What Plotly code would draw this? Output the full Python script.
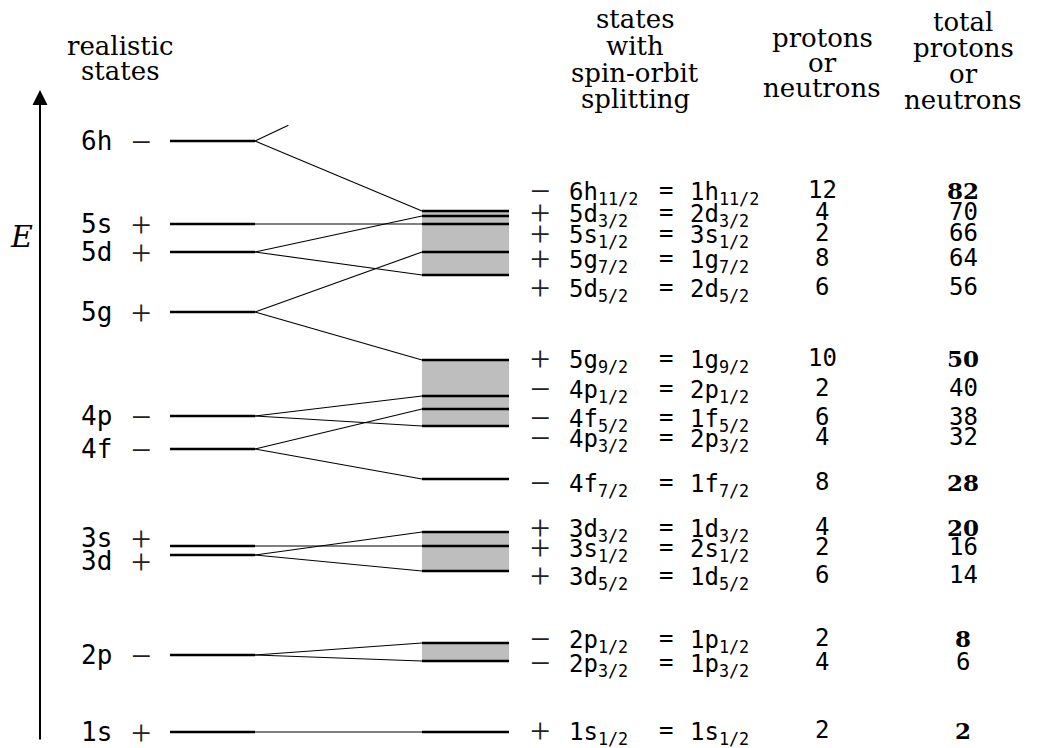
import plotly.graph_objects as go

# ---------------- data ----------------
left_states = ["6h", "5s", "5d", "5g", "4p", "4f", "3s", "3d", "2p", "1s"]
left_parity = ["−", "+", "+", "+", "−", "−", "+", "+", "−", "+"]
left_energy = [607, 524, 496, 436, 332, 299, 202, 193, 93, 16]
left_label_energy = [607, 524, 496, 436, 332, 299, 210, 187, 93, 16]

right_osc = ["6h", "5d", "5s", "5g", "5d", "5g", "4p", "4f", "4p", "4f", "3d", "3s", "3d", "2p", "2p", "1s"]
right_j = ["11/2", "3/2", "1/2", "7/2", "5/2", "9/2", "1/2", "5/2", "3/2", "7/2", "3/2", "1/2", "5/2", "1/2", "3/2", "1/2"]
right_conv = ["1h", "2d", "3s", "1g", "2d", "1g", "2p", "1f", "2p", "1f", "1d", "2s", "1d", "1p", "1p", "1s"]
right_energy = [537, 532, 524, 496, 473, 388, 352, 339, 322, 269, 216, 202, 177, 105, 87, 16]
right_label_energy = [558, 536, 515, 490, 461, 390, 360, 331, 311, 266, 221, 201, 173, 110, 86, 18]
right_shell = [0, 0, 0, 0, 0, 1, 1, 1, 1, 2, 3, 3, 3, 4, 4, 5]
nucleons = [12, 4, 2, 8, 6, 10, 2, 6, 4, 8, 4, 2, 6, 2, 4, 2]
totals = [82, 70, 66, 64, 56, 50, 40, 38, 32, 28, 20, 16, 14, 8, 6, 2]
magic_numbers = [2, 8, 20, 28, 50, 82]

# partner of 6h11/2 (6h9/2) lies above the drawn range
h92_energy = 686
h92_visible_fraction = 0.2

# ---------------- layout constants ----------------
W, H = 1039, 748
LX0, LX1 = 170, 255
RX0, RX1 = 422, 509
AXIS_X = 40

MONO = "DejaVu Sans Mono"
SERIF = "DejaVu Serif"
SIGN = "Liberation Serif"

fig = go.Figure()

# gray boxes for groups of split levels
for g in sorted(set(right_shell)):
    es = [e for e, s in zip(right_energy, right_shell) if s == g]
    if len(es) > 1:
        fig.add_shape(type="rect", xref="x", yref="y", x0=RX0, x1=RX1,
                      y0=min(es), y1=max(es), fillcolor="#bebebe",
                      line=dict(width=0), layer="below")

# connection lines
cx, cy = [], []
for osc, e in zip(right_osc, right_energy):
    le = left_energy[left_states.index(osc)]
    cx += [LX1, RX0, None]
    cy += [le, e, None]
le6h = left_energy[left_states.index("6h")]
cx += [LX1, LX1 + (RX0 - LX1) * h92_visible_fraction, None]
cy += [le6h, le6h + (h92_energy - le6h) * h92_visible_fraction, None]
fig.add_trace(go.Scatter(x=cx, y=cy, mode="lines",
                         line=dict(color="black", width=1.1),
                         hoverinfo="skip", showlegend=False))

# left levels
lx, ly = [], []
for e in left_energy:
    lx += [LX0, LX1, None]
    ly += [e, e, None]
fig.add_trace(go.Scatter(x=lx, y=ly, mode="lines",
                         line=dict(color="black", width=2.6),
                         hoverinfo="skip", showlegend=False))

# right levels
rx, ry = [], []
for e in right_energy:
    rx += [RX0, RX1, None]
    ry += [e, e, None]
fig.add_trace(go.Scatter(x=rx, y=ry, mode="lines",
                         line=dict(color="black", width=2.6),
                         hoverinfo="skip", showlegend=False))

ann = []

def txt(x, y, t, size, family, xanchor="center", yanchor="middle", color="black"):
    ann.append(dict(x=x, y=y, xref="x", yref="y", text=t, showarrow=False,
                    xanchor=xanchor, yanchor=yanchor,
                    font=dict(size=size, family=family, color=color)))

# left labels
for s, p, e in zip(left_states, left_parity, left_label_energy):
    txt(79, e, s, 26, MONO, xanchor="left")
    txt(141, e - 1, p, 36, SIGN, color="#222")

# right labels
for i in range(len(right_osc)):
    y = right_label_energy[i]
    par = left_parity[left_states.index(right_osc[i])]
    txt(540, y - 1, par, 36, SIGN, color="#222")
    txt(567, y - 3, f"{right_osc[i]}<sub>{right_j[i]}</sub>", 24, MONO, xanchor="left")
    txt(666, y, "=", 24, MONO)
    txt(688, y - 3, f"{right_conv[i]}<sub>{right_j[i]}</sub>", 24, MONO, xanchor="left")
    txt(822, y, str(nucleons[i]), 24, MONO)
    if totals[i] in magic_numbers:
        txt(963, y, f"<b>{totals[i]}</b>", 23, SERIF)
    else:
        txt(963, y, str(totals[i]), 24, MONO)

# headers (page-pixel centres of each line)
def header(x, ys, lines):
    for yy, line in zip(ys, lines):
        txt(x, H - yy, line, 26, SERIF)

header(120, [46, 71], ["realistic", "states"])
header(635, [19, 46, 73, 99], ["states", "with", "spin-orbit", "splitting"])
header(822, [38, 63, 88], ["protons", "or", "neutrons"])
header(963, [22, 48, 74, 100], ["total", "protons", "or", "neutrons"])

# energy axis
ann.append(dict(x=AXIS_X, y=H - 90, ax=AXIS_X, ay=H - 741, xref="x", yref="y",
                axref="x", ayref="y", showarrow=True, arrowhead=2, arrowsize=1.5,
                arrowwidth=2, arrowcolor="black", text=""))
txt(21, H - 236, "<i>E</i>", 30, SERIF)

fig.update_layout(
    width=W, height=H, margin=dict(l=0, r=0, t=0, b=0),
    paper_bgcolor="white", plot_bgcolor="white",
    xaxis=dict(range=[0, W], visible=False, fixedrange=True),
    yaxis=dict(range=[0, H], visible=False, fixedrange=True),
    annotations=ann, showlegend=False,
)
fig.write_html(
    "out.html",
    config={"displayModeBar": False},
    post_script="document.body.style.margin='0px';document.body.style.overflow='hidden';",
)
